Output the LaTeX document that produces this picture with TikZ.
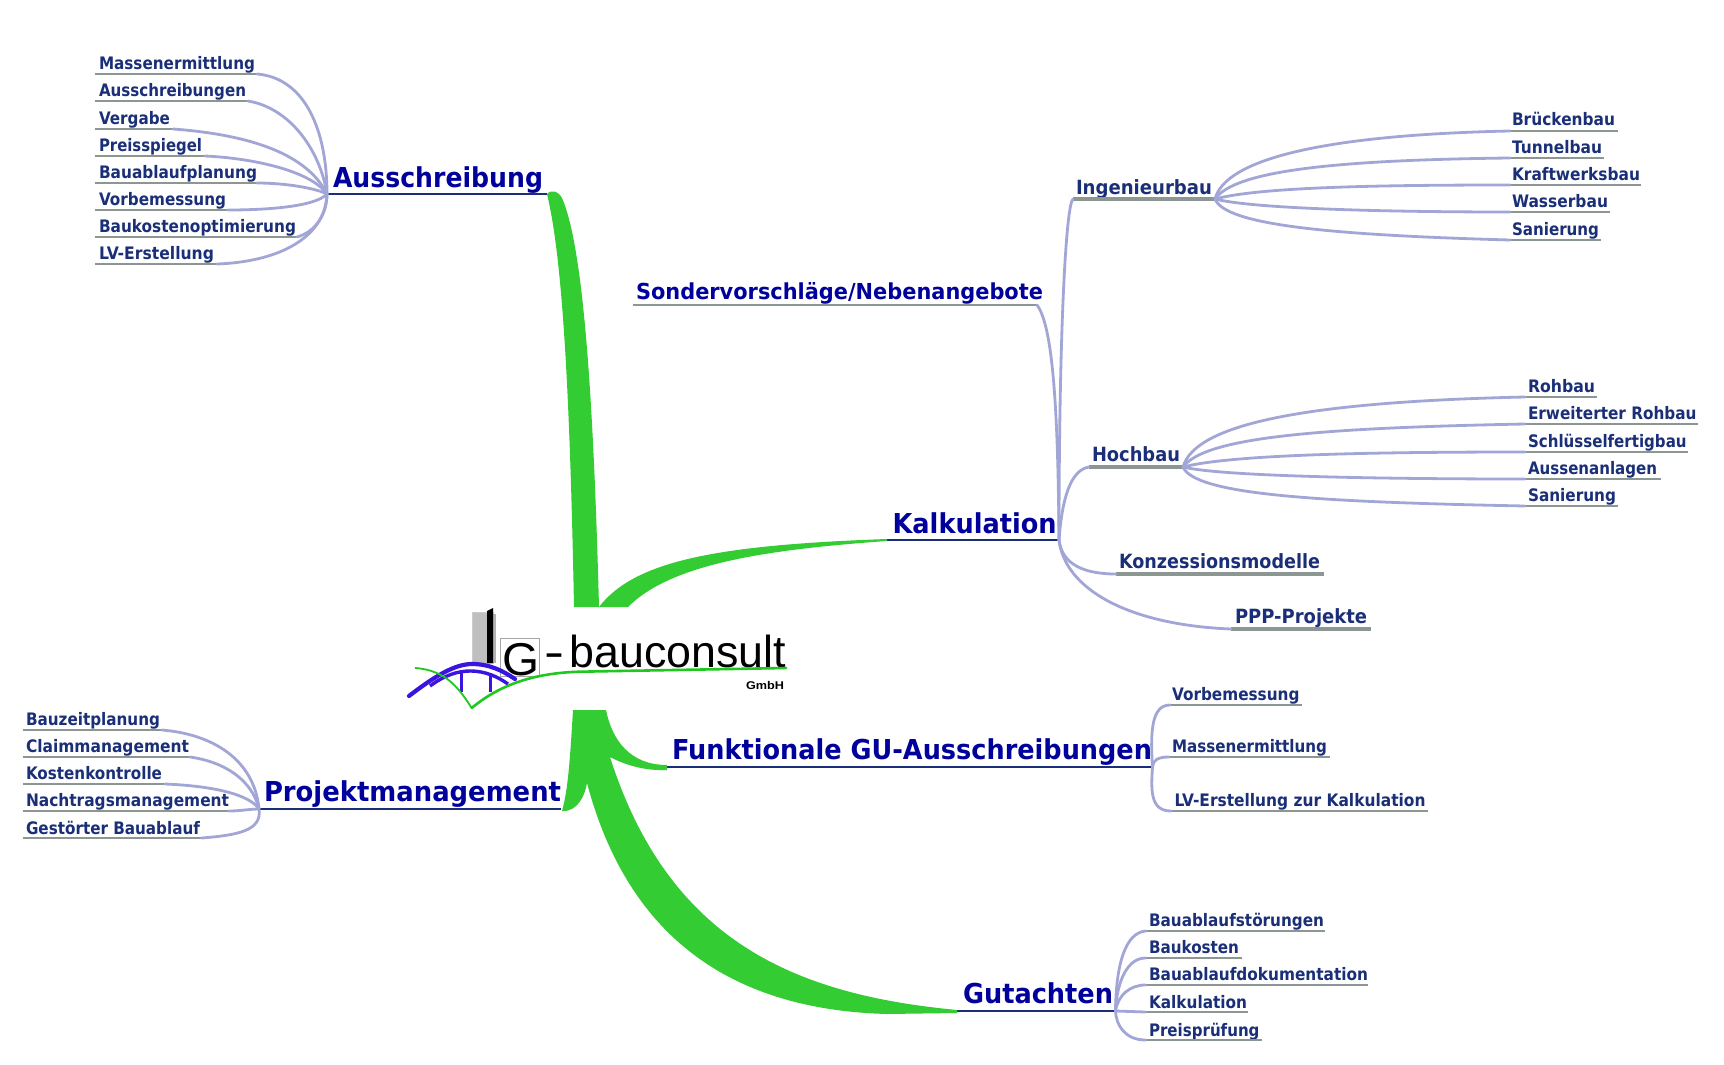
\documentclass[tikz,border=0pt]{standalone}
\usepackage{fontspec}
\usepackage{graphicx}
\newfontfamily\mapfont{DejaVu Sans}
\newfontfamily\logofont{Liberation Sans}
\definecolor{mainblue}{HTML}{00009C}
\definecolor{navytext}{HTML}{1A2F78}
\definecolor{navyline}{HTML}{1A2F78}
\definecolor{grayline}{HTML}{8C9692}
\definecolor{linkcol}{HTML}{A2A6D6}
\definecolor{branch}{HTML}{33CC33}
\definecolor{swoosh}{HTML}{1EC81E}
\definecolor{archblue}{HTML}{3A14E0}
\newcommand{\fitt}[2]{\resizebox{\dimexpr #1pt/2\relax}{\height}{#2}}
\newcommand{\labelnode}[9]{%
  \coordinate (#1L) at (#3,#5);
  \coordinate (#1R) at (#4,#5);
  \node[#2, anchor=base west] (#1) at (#6,#7) {\fitt{#8}{#9}};
  \draw[#2line] (#1L) -- (#1R);
}
\tikzset{
  x=0.5pt, y=-0.5pt,
  txt/.style={inner sep=0pt, outer sep=0pt},
  leaf/.style={txt, text=navytext, font=\mapfont\bfseries\fontsize{8.6}{10}\selectfont},
  mid/.style={txt, text=navytext, font=\mapfont\bfseries\fontsize{9.8}{12}\selectfont},
  sond/.style={txt, text=mainblue, font=\mapfont\bfseries\fontsize{11}{13}\selectfont},
  big/.style={txt, text=mainblue, font=\mapfont\bfseries\fontsize{13.7}{16}\selectfont},
  leafline/.style={draw=grayline, line width=1.4pt},
  midline/.style={draw=grayline, line width=1.6pt},
  sondline/.style={draw=grayline, line width=1.2pt},
  bigline/.style={draw=navyline, line width=1.25pt},
  link/.style={draw=linkcol, line width=1.4pt, line cap=round},
  green/.style={fill=branch, draw=none},
  logotxt/.style={txt, text=black},
}
\begin{document}
\begin{tikzpicture}
\useasboundingbox (0,0) rectangle (1724,1065);
\fill[white] (0,0) rectangle (1724,1065);

% ---- logo
\fill[gray!50, draw=gray!40, line width=0.4pt] (472.7,612) rectangle (493,663);
\fill[gray!60] (493,614) rectangle (495.5,663);
\fill[black] (487,611) -- (493,608) -- (493,663) -- (487,663) -- cycle;
\draw[gray!70, line width=0.4pt] (500.7,638) rectangle (539.5,676);
\node[logotxt, anchor=base west, font=\logofont\fontsize{23}{26}\selectfont] (logoG) at (502,675) {\fitt{37}{G}};
\node[logotxt, anchor=base west, font=\logofont\fontsize{22.4}{26}\selectfont] (logo) at (544.5,667) {\fitt{20}{-}\hspace{2.5pt}\fitt{216.5}{bauconsult}};
\node[logotxt, anchor=base west, font=\logofont\bfseries\fontsize{5.6}{7}\selectfont] (gmbh) at (746,689) {\fitt{38}{GmbH}};
\draw[archblue, line width=2.1pt, line cap=round] (409,696) .. controls (435,676) and (455,664) .. (472,664) .. controls (490,664) and (503,671) .. (515,679);
\draw[archblue, line width=1.7pt] (430,686) .. controls (445,675) and (458,671) .. (470,671) .. controls (486,671) and (498,677) .. (508,684);
\draw[archblue, line width=1.4pt] (461.7,673) -- (461.7,692);
\draw[archblue, line width=1.4pt] (490.7,673) -- (490.7,692);
\draw[swoosh, line width=0.9pt] (415,668) .. controls (447,670) and (460,690) .. (471.7,708);
\draw[swoosh, line width=1.3pt, line cap=round] (471.7,708) .. controls (497,687) and (530,673) .. (580,671.7) -- (786,668);

% ---- label nodes
\labelnode{aus}{big}{327}{547}{194}{333}{187}{210}{Ausschreibung}
\labelnode{kal}{big}{887}{1059}{540}{892.6}{533}{164}{Kalkulation}
\labelnode{fun}{big}{667}{1152.5}{767}{672}{759}{480}{Funktionale GU-Ausschreibungen}
\labelnode{pro}{big}{259}{561}{809}{264}{801}{297}{Projektmanagement}
\labelnode{gut}{big}{956}{1115.5}{1011}{963}{1003}{150}{Gutachten}

\labelnode{son}{sond}{632.5}{1037}{305}{636}{299.5}{407}{Sondervorschläge/Nebenangebote}
\labelnode{ing}{mid}{1073}{1215}{199}{1076}{194}{136}{Ingenieurbau}
\labelnode{hoc}{mid}{1089}{1183}{467}{1092}{461}{88}{Hochbau}
\labelnode{kon}{mid}{1116}{1324}{574}{1119}{568}{201}{Konzessionsmodelle}
\labelnode{ppp}{mid}{1231}{1371}{629}{1235}{623}{132}{PPP-Projekte}

\labelnode{a1}{leaf}{95}{257}{74}{99}{69}{156}{Massenermittlung}
\labelnode{a2}{leaf}{95}{248}{101}{99}{96.5}{147}{Ausschreibungen}
\labelnode{a3}{leaf}{95}{173}{129}{99}{124.5}{71}{Vergabe}
\labelnode{a4}{leaf}{95}{205}{156}{99}{151.5}{103}{Preisspiegel}
\labelnode{a5}{leaf}{95}{257}{183}{99}{178}{158}{Bauablaufplanung}
\labelnode{a6}{leaf}{95}{228}{210}{99}{205.5}{127}{Vorbemessung}
\labelnode{a7}{leaf}{95}{297}{237}{99}{232.5}{197}{Baukostenoptimierung}
\labelnode{a8}{leaf}{95}{217}{264}{99}{259.5}{115}{LV-Erstellung}

\labelnode{p1}{leaf}{22.5}{162}{730}{26}{725.5}{134}{Bauzeitplanung}
\labelnode{p2}{leaf}{22.5}{190}{757}{26}{752.5}{163}{Claimmanagement}
\labelnode{p3}{leaf}{22.5}{165}{784}{26}{779.5}{136}{Kostenkontrolle}
\labelnode{p4}{leaf}{22.5}{229}{811}{26}{806.5}{203}{Nachtragsmanagement}
\labelnode{p5}{leaf}{22.5}{201.6}{838}{26}{834}{174}{Gestörter Bauablauf}

\labelnode{i1}{leaf}{1510}{1618}{131}{1512}{126}{103}{Brückenbau}
\labelnode{i2}{leaf}{1510}{1604}{158}{1512}{153}{90}{Tunnelbau}
\labelnode{i3}{leaf}{1510}{1641}{185}{1512}{180.5}{128}{Kraftwerksbau}
\labelnode{i4}{leaf}{1510}{1610}{212}{1512}{207.5}{96}{Wasserbau}
\labelnode{i5}{leaf}{1510}{1601}{240}{1512}{235}{87}{Sanierung}

\labelnode{h1}{leaf}{1525}{1596.5}{397}{1528}{392.5}{67}{Rohbau}
\labelnode{h2}{leaf}{1525}{1698}{424}{1528}{419.5}{168.5}{Erweiterter Rohbau}
\labelnode{h3}{leaf}{1525}{1688}{452}{1528}{447}{158.6}{Schlüsselfertigbau}
\labelnode{h4}{leaf}{1525}{1660.6}{479}{1528}{474.5}{129}{Aussenanlagen}
\labelnode{h5}{leaf}{1525}{1618}{506}{1528}{501.5}{88}{Sanierung}

\labelnode{f1}{leaf}{1170}{1301.5}{705}{1172}{700.5}{127.5}{Vorbemessung}
\labelnode{f2}{leaf}{1169}{1329.6}{757}{1172}{752.5}{155}{Massenermittlung}
\labelnode{f3}{leaf}{1171}{1428}{811}{1174.5}{806}{251}{LV-Erstellung zur Kalkulation}

\labelnode{g1}{leaf}{1145.5}{1325}{931}{1149}{926.5}{175}{Bauablaufstörungen}
\labelnode{g2}{leaf}{1145.5}{1242}{958}{1149}{953.5}{90}{Baukosten}
\labelnode{g3}{leaf}{1145.5}{1368}{985}{1149}{980.5}{219}{Bauablaufdokumentation}
\labelnode{g4}{leaf}{1145.5}{1248}{1012}{1149}{1008.5}{98}{Kalkulation}
\labelnode{g5}{leaf}{1145.5}{1262}{1040}{1149}{1036}{110.5}{Preisprüfung}

% ---- green branches
\path[green] (ausR) .. controls (563,260) and (570,400) .. (574,607) -- (599,607)
  .. controls (594,420) and (585,250) .. (562,198) .. controls (558,191) and (552,189) .. (ausR) -- cycle;
\path[green] (599,607) .. controls (635,560) and (720,545) .. (887,539) -- (887,541)
  .. controls (760,550) and (670,565) .. (628,607) -- cycle;
\path[green] (573,710) -- (606,710) .. controls (612,740) and (630,765) .. (667,765) -- (667,770)
  .. controls (645,771) and (625,765) .. (610,757)
  .. controls (670,945) and (800,995) .. (957,1010) -- (957,1013) -- (887,1014)
  .. controls (740,1010) and (630,945) .. (587,783)
  .. controls (585,795) and (578,812) .. (562,811)
  .. controls (568,790) and (570,760) .. (573,710) -- cycle;

% ---- connectors: Ausschreibung
\draw[link] (a1R) .. controls (305,78) and (327,130) .. (ausL);
\draw[link] (a2R) .. controls (290,108) and (320,150) .. (ausL);
\draw[link] (a3R) .. controls (240,134) and (305,150) .. (ausL);
\draw[link] (a4R) .. controls (250,158) and (310,170) .. (ausL);
\draw[link] (a5R) .. controls (285,183) and (315,188) .. (ausL);
\draw[link] (a6R) .. controls (265,210) and (315,207) .. (ausL);
\draw[link] (a7R) .. controls (315,232) and (327,215) .. (ausL);
\draw[link] (a8R) .. controls (275,262) and (325,240) .. (ausL);
% Projektmanagement
\draw[link] (p1R) .. controls (220,735) and (255,765) .. (proL);
\draw[link] (p2R) .. controls (225,762) and (252,780) .. (proL);
\draw[link] (p3R) .. controls (215,786) and (250,795) .. (proL);
\draw[link] (p4R) .. controls (240,811) and (250,809) .. (proL);
\draw[link] (p5R) .. controls (240,835) and (262,830) .. (proL);
% Kalkulation
\draw[link] (sonR) .. controls (1052,325) and (1058,400) .. (kalR);
\draw[link] (ingL) .. controls (1066,205) and (1059,330) .. (kalR);
\draw[link] (hocL) .. controls (1070,470) and (1062,500) .. (kalR);
\draw[link] (konL) .. controls (1085,574) and (1062,565) .. (kalR);
\draw[link] (pppL) .. controls (1130,625) and (1065,590) .. (kalR);
% Ingenieurbau
\draw[link] (ingR) .. controls (1225,160) and (1320,135) .. (i1L);
\draw[link] (ingR) .. controls (1235,170) and (1340,160) .. (i2L);
\draw[link] (ingR) .. controls (1260,187) and (1380,185) .. (i3L);
\draw[link] (ingR) .. controls (1250,208) and (1370,212) .. (i4L);
\draw[link] (ingR) .. controls (1225,225) and (1330,235) .. (i5L);
% Hochbau
\draw[link] (hocR) .. controls (1195,425) and (1300,402) .. (h1L);
\draw[link] (hocR) .. controls (1205,437) and (1320,428) .. (h2L);
\draw[link] (hocR) .. controls (1230,455) and (1360,452) .. (h3L);
\draw[link] (hocR) .. controls (1220,476) and (1370,479) .. (h4L);
\draw[link] (hocR) .. controls (1195,495) and (1320,502) .. (h5L);
% Funktionale
\draw[link] (funR) .. controls (1150,730) and (1152,705) .. (f1L);
\draw[link] (funR) .. controls (1153,760) and (1158,757) .. (f2L);
\draw[link] (funR) .. controls (1151,790) and (1150,811) .. (f3L);
% Gutachten
\draw[link] (gutR) .. controls (1116,965) and (1125,933) .. (g1L);
\draw[link] (gutR) .. controls (1117,980) and (1128,958) .. (g2L);
\draw[link] (gutR) .. controls (1118,995) and (1130,985) .. (g3L);
\draw[link] (gutR) -- (g4L);
\draw[link] (gutR) .. controls (1116,1025) and (1125,1040) .. (g5L);
\end{tikzpicture}
\end{document}
